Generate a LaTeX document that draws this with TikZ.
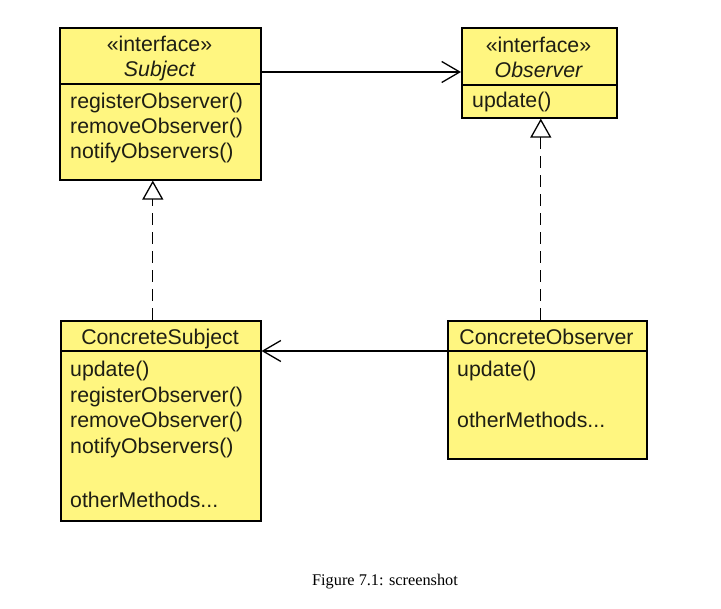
\documentclass[tikz,border=0pt]{standalone}
\usepackage{fontspec}
\setmainfont{Liberation Sans}
\newfontfamily\capfont{Liberation Serif}
\usetikzlibrary{arrows.meta}
\definecolor{umlyellow}{RGB}{255,246,128}
\definecolor{umltext}{RGB}{30,30,20}
\definecolor{tipgrey}{RGB}{70,70,70}
\newcommand{\umlfont}{\fontsize{21.3}{25}\selectfont\color{umltext}}
\tikzset{
  umlbox/.style={draw=black, line width=1.6pt, fill=umlyellow, inner sep=0pt, anchor=north west},
  divider/.style={draw=black, line width=1.4pt},
  mtext/.style={anchor=base west, inner sep=0pt, font=\umlfont},
  ctext/.style={anchor=base, inner sep=0pt, font=\umlfont},
  assoc/.style={draw=black, line width=1.3pt, -{Straight Barb[length=18pt,width=21pt,line width=1.3pt]}},
  realize/.style={draw=black, line width=1.3pt, dash pattern=on 12pt off 7pt, -{Triangle[open,length=19pt,width=21pt,line width=1.3pt,fill=white]}}
}
\begin{document}
\begin{tikzpicture}[x=1pt,y=-1pt]
\useasboundingbox (0,0) rectangle (721,609);
% boxes
\node[umlbox, minimum width=201pt, minimum height=152pt] (subj) at (59,27) {};
\node[umlbox, minimum width=155pt, minimum height=90pt] (obs) at (461,27) {};
\node[umlbox, minimum width=200pt, minimum height=200pt] (csub) at (60,320) {};
\node[umlbox, minimum width=199pt, minimum height=138pt] (cobs) at (447,320) {};
% dividers
\draw[divider] ([yshift=-57pt]subj.north west) -- ([yshift=-57pt]subj.north east);
\draw[divider] ([yshift=-58pt]obs.north west) -- ([yshift=-58pt]obs.north east);
\draw[divider] ([yshift=-31pt]csub.north west) -- ([yshift=-31pt]csub.north east);
\draw[divider] ([yshift=-31pt]cobs.north west) -- ([yshift=-31pt]cobs.north east);
% Subject texts
\node[ctext] (s1) at (159.5,52) {«interface»};
\node[ctext] (s2) at (159.5,77) {\itshape Subject};
\node[mtext] (s3) at (70,109) {registerObserver()};
\node[mtext] (s4) at (70,134) {removeObserver()};
\node[mtext] (s5) at (70,159) {notifyObservers()};
% Observer texts
\node[ctext] (o1) at (538.5,53) {«interface»};
\node[ctext] (o2) at (538.5,78) {\itshape Observer};
\node[mtext] (o3) at (472,108) {update()};
% ConcreteSubject texts
\node[ctext] (c1) at (160,345) {ConcreteSubject};
\node[mtext] (c2) at (70,377) {update()};
\node[mtext] (c3) at (70,402.5) {registerObserver()};
\node[mtext] (c4) at (70,428) {removeObserver()};
\node[mtext] (c5) at (70,453.5) {notifyObservers()};
\node[mtext] (c6) at (70,508) {otherMethods...};
% ConcreteObserver texts
\node[ctext] (b1) at (546.5,345) {ConcreteObserver};
\node[mtext] (b2) at (457,377) {update()};
\node[mtext] (b3) at (457,428) {otherMethods...};
% connectors
\draw[assoc] ([yshift=-45pt]subj.north east) -- ([yshift=-45pt]obs.north west);
\draw[assoc] ([yshift=-31pt]cobs.north west) -- ([yshift=-31pt]csub.north east);
\draw[realize] ([xshift=-8pt]csub.north) -- ([xshift=-7.5pt]subj.south);
\draw[realize] ([xshift=-6.5pt]cobs.north) -- ([xshift=1.5pt]obs.south);
% caption
\node[anchor=base, inner sep=0pt, font=\capfont\fontsize{16.3}{19}\selectfont] (cap) at (385,586) {Figure 7.1: screenshot};
\end{tikzpicture}
\end{document}
